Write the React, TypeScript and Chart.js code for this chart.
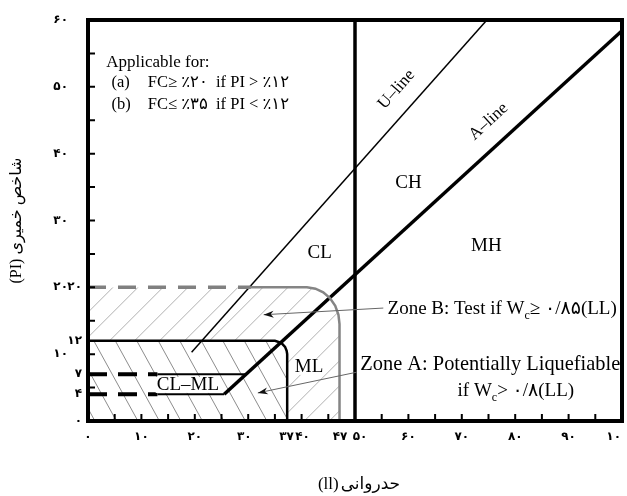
import React, { useEffect, useRef } from 'react';
import { Chart, registerables } from 'chart.js';
Chart.register(...registerables);

// ---------- axis ranges & ticks ----------
const LL_MIN = 0;
const LL_MAX = 100;
const PI_MIN = 0;
const PI_MAX = 60;
const minorStep = 5;
const xTickValues = [0, 10, 20, 30, 37, 40, 47, 50, 60, 70, 80, 90, 100];
const xTickLabels = ['۰', '۱۰', '۲۰', '۳۰', '۳۷', '۴۰', '۴۷', '۵۰', '۶۰', '۷۰', '۸۰', '۹۰', '۱۰'];
const yTickMain = [10, 20, 30, 40, 50, 60];
const yTickMainLabels = ['۱۰', '۲۰', '۳۰', '۴۰', '۵۰', '۶۰'];
const yTickExtra = [0, 4, 7, 12, 20];
const yTickExtraLabels = ['۰', '۴', '۷', '۱۲', '۲۰'];

// ---------- lines (LL, PI) ----------
const aLine = [{ x: 25.5, y: 4 }, { x: 100, y: 58.4 }];
const uLine = [{ x: 19.4, y: 10.3 }, { x: 74.7, y: 60 }];
const llFifty = [{ x: 50, y: 0 }, { x: 50, y: 60 }];
const clml4Dashed = [{ x: 0, y: 4 }, { x: 13, y: 4 }];
const clml4Solid = [{ x: 13, y: 4 }, { x: 25.5, y: 4 }];
const clml7Dashed = [{ x: 0, y: 7 }, { x: 13, y: 7 }];
const clml7Solid = [{ x: 13, y: 7 }, { x: 29.6, y: 7 }];
const zoneA = [
  { x: 0, y: 12 }, { x: 35, y: 12 }, { x: 36.2, y: 11.7 }, { x: 36.9, y: 11.1 },
  { x: 37.2, y: 10.5 }, { x: 37.3, y: 10 }, { x: 37.3, y: 0 },
];
const zoneBDashed = [{ x: 0, y: 20 }, { x: 30.5, y: 20 }];
const zoneBSolid = [
  { x: 30.5, y: 20 }, { x: 41, y: 20 }, { x: 42.6, y: 19.8 }, { x: 44.05, y: 19.26 },
  { x: 45.3, y: 18.4 }, { x: 46.3, y: 17.25 }, { x: 46.9, y: 15.9 }, { x: 47.1, y: 14.5 },
  { x: 47.1, y: 0 },
];
const zoneBArrow = [{ x: 55.3, y: 16.9 }, { x: 32.9, y: 15.9 }];
const zoneAArrow = [{ x: 50.3, y: 7.3 }, { x: 31.8, y: 4.2 }];

// ---------- text ----------
const regionLabels = [
  { t: 'CH', x: 60, y: 35.6, bg: false },
  { t: 'CL', x: 43.4, y: 25.1, bg: false },
  { t: 'MH', x: 74.6, y: 26.2, bg: false },
  { t: 'ML', x: 41.4, y: 8.1, bg: true },
  { t: 'CL–ML', x: 18.7, y: 5.4, bg: true },
];
const lineLabels = [
  { t: 'U–line', x: 57.8, y: 49.6, line: uLine },
  { t: 'A–line', x: 75, y: 44.8, line: aLine },
];
const applicableTitle = { t: 'Applicable for:', x: 3.4, y: 53.7 };
const applicableRows = [
  { tag: '(a)', t: 'FC≥ ٪۲۰  if PI > ٪۱۲', x: 4.4, x2: 11.2, y: 50.6 },
  { tag: '(b)', t: 'FC≤ ٪۳۵  if PI < ٪۱۲', x: 4.4, x2: 11.2, y: 47.3 },
];
const zoneTexts = [
  { x: 56.1, y: 16.8, size: 19, parts: [{ t: 'Zone B: Test if W' }, { t: 'c', sub: true }, { t: '≥ ۰/۸۵(LL)' }] },
  { x: 51.0, y: 8.4, size: 20.4, parts: [{ t: 'Zone A: Potentially Liquefiable' }] },
  { x: 69.2, y: 4.5, size: 19, parts: [{ t: 'if W' }, { t: 'c', sub: true }, { t: '> ۰/۸(LL)' }] },
];
// title pieces, listed in visual left-to-right order
const xTitleParts = ['(ll)', 'حدروانی'];
const yTitleParts = ['(PI) ', 'شاخص خمیری'];

const SERIF = "'Liberation Serif', 'DejaVu Sans', serif";
const DIGITS = "'DejaVu Sans', sans-serif";

type P = { x: number; y: number };

function drawPartsCentered(ctx: any, parts: string[], cx: number, cy: number, gap = 0) {
  const widths = parts.map((p) => ctx.measureText(p).width);
  const total = widths.reduce((a, b) => a + b, 0) + gap * (parts.length - 1);
  let x = cx - total / 2;
  ctx.textAlign = 'left';
  parts.forEach((p, i) => {
    ctx.fillText(p, x, cy);
    x += widths[i] + gap;
  });
}

const deco = {
  id: 'deco',
  beforeDatasetsDraw(chart: any) {
    const { ctx, chartArea: ca, scales } = chart;
    const X = (v: number) => scales.x.getPixelForValue(v);
    const Y = (v: number) => scales.y.getPixelForValue(v);
    const poly = (pts: P[]) => {
      pts.forEach((p, i) => (i ? ctx.lineTo(X(p.x), Y(p.y)) : ctx.moveTo(X(p.x), Y(p.y))));
      ctx.closePath();
    };
    const polyA = [...zoneA, { x: 0, y: 0 }];
    const polyB = [...zoneBDashed, ...zoneBSolid.slice(1), { x: 0, y: 0 }];

    // Zone A hatch "\"
    ctx.save();
    ctx.beginPath();
    poly(polyA);
    ctx.clip();
    ctx.strokeStyle = '#8c8c8c';
    ctx.lineWidth = 1;
    {
      const top = Y(12);
      const bot = Y(0);
      const h = bot - top;
      ctx.beginPath();
      for (let px = ca.left - h; px < X(40); px += 21.5) {
        ctx.moveTo(px, top);
        ctx.lineTo(px + h * 0.55, bot);
      }
      ctx.stroke();
    }
    ctx.restore();

    // Zone B hatch "/"
    ctx.save();
    ctx.beginPath();
    poly(polyB);
    poly(polyA);
    ctx.clip('evenodd');
    ctx.strokeStyle = '#b0b0b0';
    ctx.lineWidth = 1;
    {
      const top = Y(20);
      const bot = Y(0);
      const h = bot - top;
      ctx.beginPath();
      for (let px = ca.left - h; px < X(50); px += 25) {
        ctx.moveTo(px, bot);
        ctx.lineTo(px + h, top);
      }
      ctx.stroke();
    }
    ctx.restore();
  },
  afterDatasetsDraw(chart: any) {
    const { ctx, chartArea: ca, scales } = chart;
    const X = (v: number) => scales.x.getPixelForValue(v);
    const Y = (v: number) => scales.y.getPixelForValue(v);
    ctx.save();
    ctx.direction = 'ltr';

    // frame
    ctx.strokeStyle = '#000';
    ctx.lineWidth = 4;
    ctx.strokeRect(ca.left, ca.top, ca.right - ca.left, ca.bottom - ca.top);

    // inward ticks
    ctx.lineWidth = 2;
    ctx.beginPath();
    for (let v = LL_MIN + minorStep; v < LL_MAX; v += minorStep) {
      ctx.moveTo(X(v), ca.bottom);
      ctx.lineTo(X(v), ca.bottom - 7);
    }
    for (let v = PI_MIN + minorStep; v < PI_MAX; v += minorStep) {
      ctx.moveTo(ca.left, Y(v));
      ctx.lineTo(ca.left + 7, Y(v));
    }
    ctx.stroke();

    // tick labels
    ctx.fillStyle = '#000';
    ctx.font = `bold 12px ${DIGITS}`;
    ctx.textBaseline = 'middle';
    xTickValues.forEach((v, i) => {
      const last = i === xTickValues.length - 1;
      const prev = i > 0 ? xTickValues[i - 1] : -100;
      const next = i < xTickValues.length - 1 ? xTickValues[i + 1] : 1000;
      let dx = 0;
      if (next - v < 10) dx -= 4;
      if (v - prev < 10) dx += 5;
      ctx.textAlign = last ? 'right' : 'center';
      ctx.fillText(xTickLabels[i], last ? X(v) - 1 : X(v) + dx, ca.bottom + 16);
    });
    ctx.textAlign = 'right';
    yTickMain.forEach((v, i) => ctx.fillText(yTickMainLabels[i], ca.left - 20, Y(v)));
    yTickExtra.forEach((v, i) => ctx.fillText(yTickExtraLabels[i], ca.left - 6, Y(v)));

    // axis titles
    ctx.font = `17px ${SERIF}`;
    drawPartsCentered(ctx, xTitleParts, (ca.left + ca.right) / 2 + 4, ca.bottom + 64, 2);
    ctx.font = `16px ${SERIF}`;
    ctx.save();
    ctx.translate(17, (ca.top + ca.bottom) / 2);
    ctx.rotate(-Math.PI / 2);
    drawPartsCentered(ctx, yTitleParts, 0, 0);
    ctx.restore();

    // arrowheads
    [zoneBArrow, zoneAArrow].forEach((a) => {
      const x1 = X(a[0].x), y1 = Y(a[0].y), x2 = X(a[1].x), y2 = Y(a[1].y);
      const ang = Math.atan2(y2 - y1, x2 - x1);
      ctx.save();
      ctx.translate(x2, y2);
      ctx.rotate(ang);
      ctx.beginPath();
      ctx.moveTo(0, 0);
      ctx.lineTo(-10, -3.5);
      ctx.lineTo(-7, 0);
      ctx.lineTo(-10, 3.5);
      ctx.closePath();
      ctx.fillStyle = '#111';
      ctx.fill();
      ctx.restore();
    });

    // region labels
    ctx.font = `19px ${SERIF}`;
    ctx.textAlign = 'center';
    ctx.textBaseline = 'middle';
    regionLabels.forEach((l) => {
      if (l.bg) {
        const w = ctx.measureText(l.t).width;
        ctx.fillStyle = '#fff';
        ctx.fillRect(X(l.x) - w / 2 - 1, Y(l.y) - 8, w + 2, 16);
      }
      ctx.fillStyle = '#000';
      ctx.fillText(l.t, X(l.x), Y(l.y));
    });

    // rotated line labels
    ctx.font = `17px ${SERIF}`;
    lineLabels.forEach((l) => {
      const ang = Math.atan2(
        Y(l.line[1].y) - Y(l.line[0].y),
        X(l.line[1].x) - X(l.line[0].x),
      );
      ctx.save();
      ctx.translate(X(l.x), Y(l.y));
      ctx.rotate(ang);
      ctx.fillText(l.t, 0, 0);
      ctx.restore();
    });

    // applicable block
    ctx.textAlign = 'left';
    ctx.font = `17px ${SERIF}`;
    ctx.fillText(applicableTitle.t, X(applicableTitle.x), Y(applicableTitle.y));
    ctx.font = `16.5px ${SERIF}`;
    applicableRows.forEach((r) => {
      ctx.fillText(r.tag, X(r.x), Y(r.y));
      ctx.fillText(r.t, X(r.x2), Y(r.y));
    });

    // zone texts
    zoneTexts.forEach((z) => {
      const size = z.size;
      let cx = X(z.x);
      const cy = Y(z.y);
      z.parts.forEach((p: any) => {
        if (p.sub) {
          ctx.font = `${Math.round(size * 0.62)}px ${SERIF}`;
          ctx.fillText(p.t, cx, cy + 7);
        } else {
          ctx.font = `${size}px ${SERIF}`;
          ctx.fillText(p.t, cx, cy);
        }
        cx += ctx.measureText(p.t).width;
      });
    });

    ctx.restore();
  },
};

function ds(data: P[], color: string, width: number, dash: number[] = []) {
  return {
    data,
    borderColor: color,
    borderWidth: width,
    borderDash: dash,
    pointRadius: 0,
    fill: false,
    tension: 0,
    showLine: true,
    borderCapStyle: 'butt',
  };
}

export default function App() {
  const ref = useRef<HTMLCanvasElement>(null);
  useEffect(() => {
    if (!ref.current) return;
    const chart = new Chart(ref.current, {
      type: 'scatter',
      data: {
        datasets: [
          ds(zoneBArrow, '#666', 1),
          ds(zoneAArrow, '#666', 1),
          ds(zoneBDashed, '#808080', 3.5, [18, 12]),
          ds(zoneBSolid, '#858585', 2.5),
          ds(zoneA, '#000', 2.5),
          ds(clml4Dashed, '#000', 4, [19, 11]),
          ds(clml4Solid, '#000', 2),
          ds(clml7Dashed, '#000', 4, [19, 11]),
          ds(clml7Solid, '#000', 2),
          ds(uLine, '#000', 1.5),
          ds(aLine, '#000', 3.5),
          ds(llFifty, '#000', 3.5),
        ] as any,
      },
      options: {
        responsive: false,
        animation: false,
        layout: { padding: { left: 88, right: 5, top: 20, bottom: 75 } },
        plugins: { legend: { display: false }, tooltip: { enabled: false } },
        events: [],
        scales: {
          x: { type: 'linear', min: LL_MIN, max: LL_MAX, display: false },
          y: { type: 'linear', min: PI_MIN, max: PI_MAX, display: false },
        },
      },
      plugins: [deco],
    });
    return () => chart.destroy();
  }, []);
  return (
    <div style={{ position: 'absolute', left: 0, top: 0, width: 627, height: 496, background: '#fff' }}>
      <canvas ref={ref} width={627} height={496} />
    </div>
  );
}
